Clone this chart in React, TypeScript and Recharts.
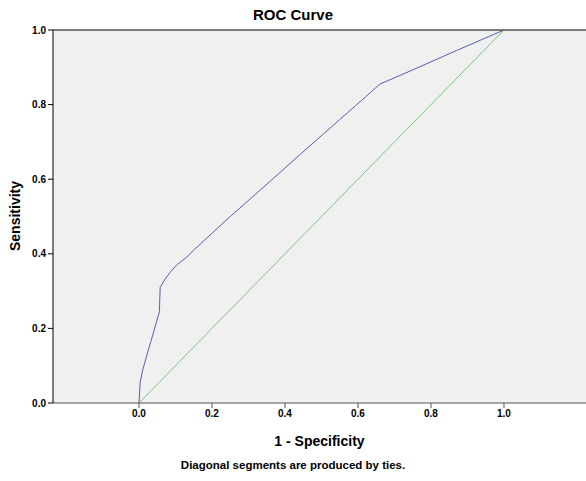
// ROC curve — SPSS-style output
import { LineChart, Line, XAxis, YAxis, CartesianGrid, ReferenceLine } from "recharts"

const rocFpr = [0, 0.003, 0.01, 0.025, 0.04, 0.056, 0.058, 0.07, 0.085, 0.103, 0.13, 0.15, 0.25, 0.36, 0.44, 0.55, 0.62, 0.66, 0.75, 0.87, 1.0]
const rocTpr = [0, 0.054, 0.088, 0.14, 0.19, 0.245, 0.31, 0.33, 0.35, 0.37, 0.39, 0.41, 0.5, 0.595, 0.665, 0.76, 0.82, 0.855, 0.893, 0.945, 1.0]
const diagonal = [0, 1]
const axisTicks = [0, 0.2, 0.4, 0.6, 0.8, 1.0]

const rocData = rocFpr.map((x, i) => ({ x, y: rocTpr[i] }))
const refData = diagonal.map((v) => ({ x: v, y: v }))

const font = "'Liberation Sans', Arial, sans-serif"
const tickStyle = { fontSize: 10, fontWeight: 700, fill: "#000", fontFamily: font }

export default function App() {
  return (
    <div style={{ position: "absolute", left: 0, top: 0, width: 586, height: 481, background: "#fff", fontFamily: font }}>
      <div style={{ position: "absolute", left: 0, width: 586, top: 6, textAlign: "center", fontSize: 15, fontWeight: 700, color: "#000" }}>
        ROC Curve
      </div>
      <LineChart width={586} height={481} margin={{ top: 30, right: 0, left: 0, bottom: 0 }}>
        <CartesianGrid fill="#f0f0f0" horizontal={false} vertical={false} />
        <XAxis
          type="number"
          dataKey="x"
          domain={[-0.2356, 1.2247]}
          allowDataOverflow
          ticks={axisTicks}
          tickFormatter={(v) => v.toFixed(1)}
          tick={tickStyle}
          height={78}
          tickSize={5}
          axisLine={{ stroke: "#555" }}
          tickLine={{ stroke: "#555" }}
        />
        <YAxis
          type="number"
          dataKey="y"
          domain={[0, 1]}
          ticks={axisTicks}
          tickFormatter={(v) => v.toFixed(1)}
          tick={tickStyle}
          width={53}
          tickSize={5}
          axisLine={{ stroke: "#000" }}
          tickLine={{ stroke: "#000" }}
        />
        <ReferenceLine y={1} stroke="#000" strokeWidth={1} />
        <Line data={refData} dataKey="y" type="linear" stroke="#7cc47e" strokeWidth={1} dot={false} isAnimationActive={false} />
        <Line data={rocData} dataKey="y" type="linear" stroke="#5560ab" strokeWidth={1} dot={false} isAnimationActive={false} />
      </LineChart>
      <div style={{ position: "absolute", left: 53, width: 533, top: 433, textAlign: "center", fontSize: 14, fontWeight: 700, color: "#000" }}>
        1 - Specificity
      </div>
      <div style={{ position: "absolute", left: 0, width: 586, top: 459, textAlign: "center", fontSize: 11.5, fontWeight: 700, color: "#000" }}>
        Diagonal segments are produced by ties.
      </div>
      <div
        style={{
          position: "absolute",
          left: 15,
          top: 216,
          transform: "translate(-50%, -50%) rotate(-90deg)",
          fontSize: 14,
          fontWeight: 700,
          color: "#000",
          whiteSpace: "nowrap",
        }}
      >
        Sensitivity
      </div>
    </div>
  )
}
